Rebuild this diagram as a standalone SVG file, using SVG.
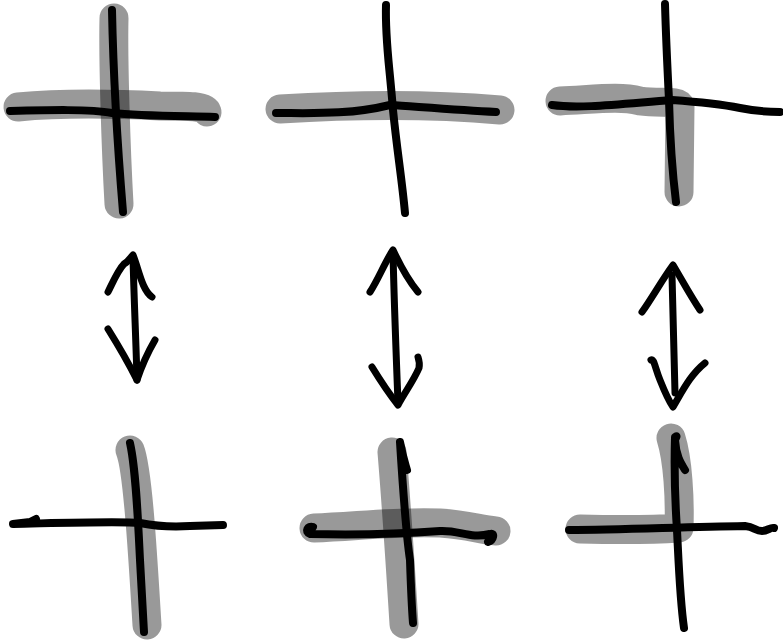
<svg xmlns="http://www.w3.org/2000/svg" width="783" height="644" viewBox="0 0 783 644">
<style>
.hl{fill:none;stroke:#000;stroke-opacity:0.4;stroke-width:29;stroke-linecap:round;stroke-linejoin:round}
.ink{fill:none;stroke:#000;stroke-width:8;stroke-linecap:round;stroke-linejoin:round}
.arr{fill:none;stroke:#000;stroke-width:7;stroke-linecap:round;stroke-linejoin:round}
</style>
<rect width="783" height="644" fill="#fff"/>
<g id="cross-top-left">
<path class="hl" d="M114,18 C113,60 116,150 119,204"/>
<path class="hl" d="M18,107 C60,103 120,104 160,106 C190,106 205,106 207,112"/>
<path class="ink" d="M112,10 C113,60 117,140 123,212"/>
<path class="ink" d="M10,111 C50,110 90,109 112,113 C140,116 180,116 215,117"/>
</g>
<g id="cross-top-middle">
<path class="hl" d="M280,109 C330,106 420,103 500,110"/>
<path class="ink" d="M386,5 C385,40 389,60 393,110 C397,150 402,180 405,213"/>
<path class="ink" d="M276,113 C310,113 350,115 390,105 C420,107 460,110 496,112"/>
</g>
<g id="cross-top-right">
<path class="hl" d="M560,101 C600,99 620,96 640,101 C660,104 678,100 680,106 L679,192"/>
<path class="ink" d="M665,4 C666,40 668,80 669,100 C670,140 672,170 676,202"/>
<path class="ink" d="M552,105 C580,109 620,104 672,100 C700,102 720,104 740,108 C760,112 770,112 780,112"/>
</g>
<g id="cross-bottom-left">
<path class="hl" d="M130,450 C138,470 143,560 147,625"/>
<path class="ink" d="M130,443 C136,470 138,520 140,560 C142,600 143,615 144,632"/>
<path class="ink" d="M36,519 L30,522 L13,524 C60,523 120,521 140,523 C160,527 175,527 190,526 L223,525"/>
</g>
<g id="cross-bottom-middle">
<path class="hl" d="M392,452 C396,500 400,560 404,624"/>
<path class="hl" d="M314,528 C360,526 400,521 440,523 C470,525 480,530 496,531"/>
<path class="ink" d="M407,470 C405,463 403,458 400,442 C403,490 407,540 410,560 C411,590 412,610 413,623"/>
<path class="ink" d="M313,527 C308,525 304,532 310,534 C350,535 400,534 440,531 C460,530 470,539 490,534 C495,532 494,540 488,542"/>
</g>
<g id="cross-bottom-right">
<path class="hl" d="M671,438 C678,460 680,500 679,528 C650,530 620,530 580,529"/>
<path class="ink" d="M685,470 C680,462 676,455 675,440 C676,437 678,435 675,437 C674,470 675,500 677,530 C679,570 680,600 684,628"/>
<path class="ink" d="M569,530 C620,530 680,527 745,526 C755,527 755,531 762,531 C768,531 770,527 774,528"/>
</g>
<g id="connectors">
<g id="arrow-left">
<path class="arr" d="M133,257 C134,300 136,340 137,380"/>
<path class="arr" d="M108,292 C113,282 118,270 124,264 C128,262 130,258 133,255 C139,270 142,290 152,297"/>
<path class="arr" d="M108,329 C118,345 128,362 137,380 C142,365 148,352 155,340"/>
</g>
<g id="arrow-middle">
<path class="arr" d="M393,252 C394,300 396,350 398,403"/>
<path class="arr" d="M370,292 C378,280 385,262 393,250 C400,265 408,280 418,292"/>
<path class="arr" d="M372,367 C380,380 390,395 398,405 C405,392 414,380 419,368 C420,363 419,360 418,357"/>
</g>
<g id="arrow-right">
<path class="arr" d="M672,275 C673,310 674,350 675,393"/>
<path class="arr" d="M642,312 C652,298 662,280 673,265 C682,280 690,295 700,310"/>
<path class="arr" d="M651,360 C654,358 655,368 660,380 C664,390 668,400 673,407 C682,392 690,375 705,363"/>
</g>
</g>
</svg>
